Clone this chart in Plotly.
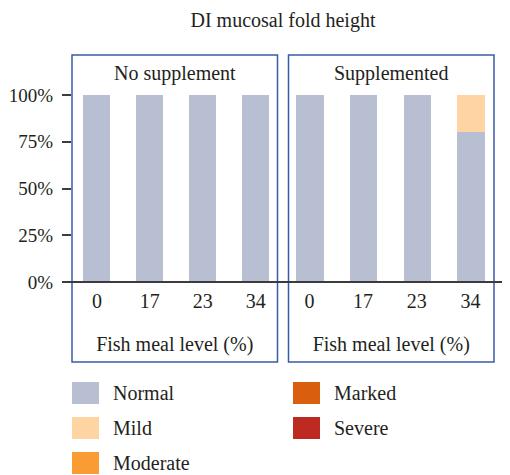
import plotly.graph_objects as go
from plotly.subplots import make_subplots

fish_meal = ["0", "17", "23", "34"]
panels = ["No supplement", "Supplemented"]
grades = ["Normal", "Mild", "Moderate", "Marked", "Severe"]
grade_colors = ["#b8bfd3", "#fed4a2", "#f99c34", "#d95f0e", "#bc2a22"]

# share of fish per grade, per panel, per fish meal level
no_supp = {
    "Normal": [1.0, 1.0, 1.0, 1.0],
    "Mild": [0, 0, 0, 0],
    "Moderate": [0, 0, 0, 0],
    "Marked": [0, 0, 0, 0],
    "Severe": [0, 0, 0, 0],
}
supp = {
    "Normal": [1.0, 1.0, 1.0, 0.8],
    "Mild": [0, 0, 0, 0.2],
    "Moderate": [0, 0, 0, 0],
    "Marked": [0, 0, 0, 0],
    "Severe": [0, 0, 0, 0],
}

FONT = "Liberation Serif"
TXT = "#231f20"
BORDER = "#3a59a8"

# page body adds an 8px margin, so the figure is a bit smaller than the window
OFF = 8
W, H = 510 - OFF, 475 - OFF
L, R, T, B = 72 - OFF, 16, 55 - OFF, 113
pw = W - L - R
ph = H - T - B
base_px = 282 - OFF  # pixel row of 0%


def px_x(x):
    return (x - OFF - L) / pw


def px_y(y):
    return (H - B - (y - OFF)) / ph


fig = make_subplots(rows=1, cols=2, shared_yaxes=True, horizontal_spacing=11 / pw)

for col, data in enumerate([no_supp, supp], start=1):
    for g, c in zip(grades, grade_colors):
        fig.add_trace(go.Bar(x=fish_meal, y=data[g], name=g, marker_color=c,
                             marker_line_width=0, width=0.51, showlegend=False),
                      row=1, col=col)

# y range so that 0..1 spans 187 px and the plot box covers the panel frames
ppu = 187
y_top = (base_px - T) / ppu
y_bot = -(H - B - base_px) / ppu
ypos = -y_bot / (y_top - y_bot)

fig.update_layout(
    width=W, height=H, barmode="stack", bargap=0,
    margin=dict(l=L, r=R, t=T, b=B, autoexpand=False),
    plot_bgcolor="white", paper_bgcolor="white",
    font=dict(family=FONT, size=20, color=TXT),
    title=dict(text="DI mucosal fold height", x=0.5, xref="paper", y=1 - 12 / H,
               yanchor="middle", font=dict(size=20, family=FONT, color=TXT)),
)
fig.update_yaxes(range=[y_bot, y_top], tickvals=[0, 0.25, 0.5, 0.75, 1.0],
                 tickformat=".0%", showgrid=False, zeroline=False, showline=False,
                 ticks="outside", ticklen=9, tickwidth=2, tickcolor="#3c3c3c",
                 ticklabelstandoff=5, tickfont=dict(size=19), automargin=False)
fig.update_yaxes(ticks="", row=1, col=2)
fig.update_xaxes(type="category", showgrid=False, zeroline=False, showline=False,
                 ticks="outside", ticklen=1, tickcolor="rgba(0,0,0,0)",
                 anchor="free", position=ypos, tickfont=dict(size=20), automargin=False,
                 title=dict(text="Fish meal level (%)", standoff=25, font=dict(size=20)))
fig.update_xaxes(range=[-0.47, 3.41], row=1, col=1)
fig.update_xaxes(range=[-0.39, 3.44], row=1, col=2)

# panel boxes and labels
for xr, label in [("x", panels[0]), ("x2", panels[1])]:
    fig.add_shape(type="rect", xref=xr + " domain", yref="paper", x0=0, x1=1, y0=0, y1=1,
                  line=dict(color=BORDER, width=1.5))
    fig.add_annotation(text=label, xref=xr + " domain", yref="paper", x=0.5, y=px_y(73),
                       showarrow=False, font=dict(size=20), yanchor="middle")

# baseline running across both panels
fig.add_shape(type="line", xref="paper", yref="y", x0=px_x(63), x1=px_x(512),
              y0=0, y1=0, line=dict(color="#3c3c3c", width=2))

# legend drawn as boxes and labels
rows_y = [393, 428, 463]
for i, (g, c) in enumerate(zip(grades, grade_colors)):
    colx = 72 if i < 3 else 293
    cy = rows_y[i] if i < 3 else rows_y[i - 3]
    fig.add_shape(type="rect", xref="paper", yref="paper",
                  x0=px_x(colx), x1=px_x(colx + 27),
                  y0=px_y(cy + 11), y1=px_y(cy - 11),
                  line=dict(width=0), fillcolor=c)
    fig.add_annotation(text=g, xref="paper", yref="paper", x=px_x(colx + 39),
                       y=px_y(cy), xanchor="left", yanchor="middle",
                       showarrow=False, font=dict(size=20))

fig.write_html("out.html")
